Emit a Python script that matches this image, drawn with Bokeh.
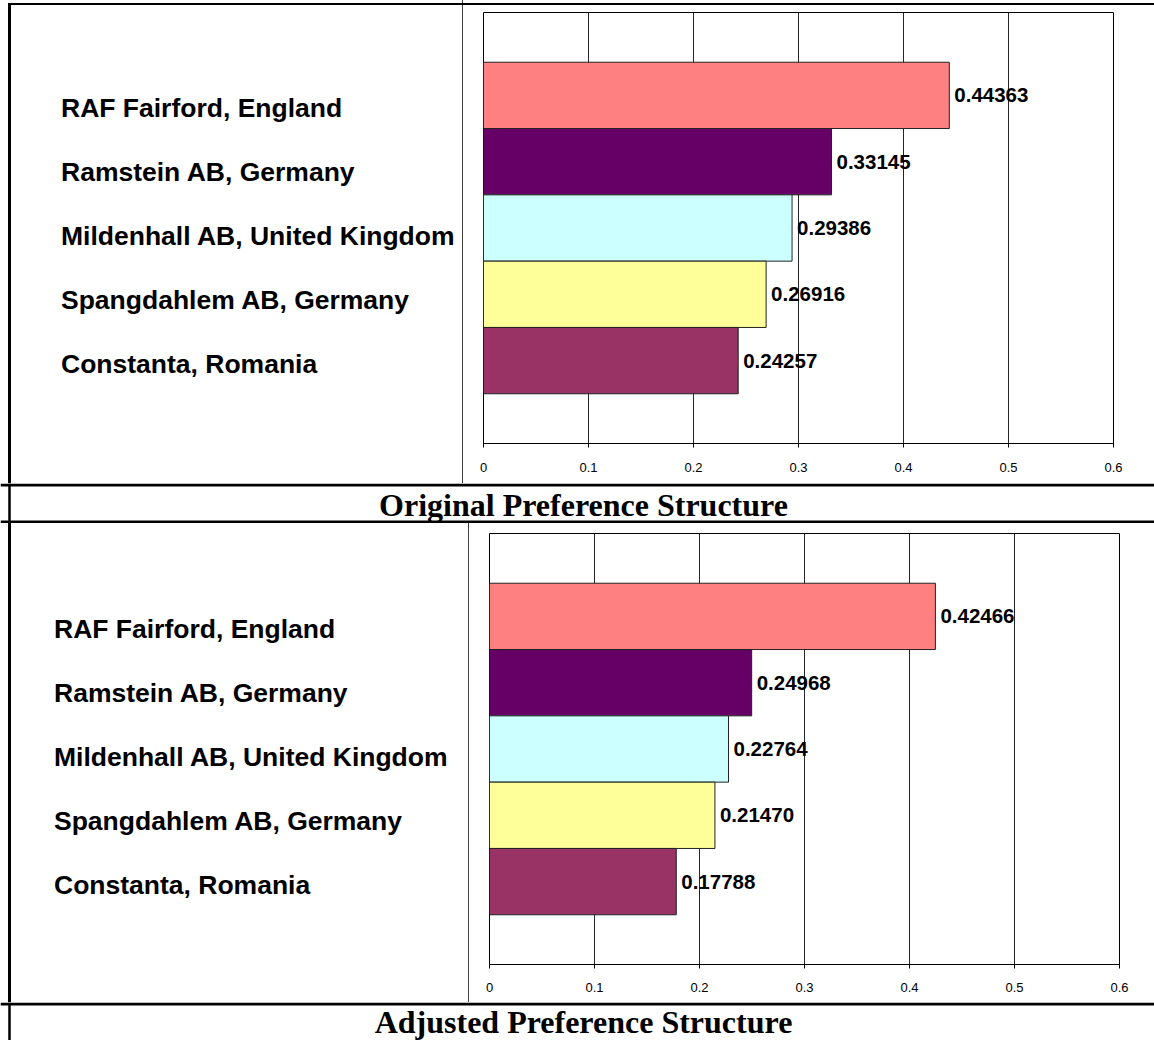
from bokeh.plotting import figure
from bokeh.models import Range1d, FixedTicker, Span, ColumnDataSource, Div
from bokeh.layouts import column, row
from bokeh.embed import file_html
from bokeh.resources import INLINE
from bokeh.core.properties import value

# ---------------- data ----------------
sites = ["RAF Fairford, England", "Ramstein AB, Germany",
         "Mildenhall AB, United Kingdom", "Spangdahlem AB, Germany",
         "Constanta, Romania"]
original = [0.44363, 0.33145, 0.29386, 0.26916, 0.24257]
adjusted = [0.42466, 0.24968, 0.22764, 0.21470, 0.17788]
colors = ["#FF8080", "#660066", "#CCFFFF", "#FFFF99", "#993366"]
x_ticks = [0, 0.1, 0.2, 0.3, 0.4, 0.5, 0.6]
x_tick_labels = ["0", "0.1", "0.2", "0.3", "0.4", "0.5", "0.6"]
captions = ["Original Preference Structure", "Adjusted Preference Structure"]

TOTAL_W = 1154
SANS = "Liberation Sans"
SERIF = "Liberation Serif"


def base(width, height, xr, yr):
    p = figure(width=width, height=height, x_range=xr, y_range=yr,
               x_axis_type=None, y_axis_type=None, toolbar_location=None,
               output_backend="svg", min_border=0, outline_line_color=None,
               background_fill_color="white", border_fill_color="white")
    return p


def label_cell(width, height, y_first, pitch, x_text, top_border=False):
    lh = 32
    parts = [f'<div style="position:relative;width:{width}px;height:{height}px;'
             f'font-family:\'{SANS}\';font-weight:bold;font-size:26.5px;color:black;">',
             f'<div style="position:absolute;left:8px;top:0;width:2.5px;height:{height}px;background:black;"></div>',
             f'<div style="position:absolute;left:{width - 1.5}px;top:0;width:1.5px;height:{height}px;background:#404040;"></div>']
    if top_border:
        parts.append(f'<div style="position:absolute;left:8px;top:3px;width:{TOTAL_W - 8}px;'
                     f'height:2px;background:black;z-index:10;"></div>')
        parts[1] = (f'<div style="position:absolute;left:8px;top:3px;width:2.5px;'
                    f'height:{height - 3}px;background:black;"></div>')
    for i, s in enumerate(sites):
        top = y_first + pitch * i - lh / 2
        parts.append(f'<div style="position:absolute;left:{x_text}px;top:{top}px;'
                     f'line-height:{lh}px;height:{lh}px;white-space:nowrap;">{s}</div>')
    parts.append('</div>')
    return Div(text="".join(parts), width=width, height=height, margin=0,
               styles={"overflow": "visible", "z-index": "5"})


def chart_cell(vals, width, height, mb_left, mb_top, standoff):
    n = len(sites)
    frame_w = 630
    frame_h = 431
    p = figure(width=width, height=height, x_range=Range1d(0, 0.6),
               y_range=Range1d(-0.25, n + 1.25), y_axis_type=None,
               toolbar_location=None, output_backend="svg",
               min_border_left=mb_left, min_border_right=width - mb_left - frame_w,
               min_border_top=mb_top, min_border_bottom=height - mb_top - frame_h,
               outline_line_color="black", outline_line_width=1,
               background_fill_color="white", border_fill_alpha=0)
    src = ColumnDataSource(dict(
        y=[n - i for i in range(n)], v=vals, c=colors,
        lab=[f"{v:.5f}" for v in vals]))
    p.hbar(y="y", left=0, right="v", height=1, fill_color="c",
           line_color="#222222", line_width=1, source=src)
    p.text(x="v", y="y", text="lab", source=src, x_offset=5,
           text_align="left", text_baseline="middle",
           text_font=value(SANS), text_font_style="bold",
           text_font_size="20.5px", text_color="black")
    ax = p.xaxis[0]
    ax.ticker = FixedTicker(ticks=x_ticks, minor_ticks=[])
    ax.major_label_overrides = {t: l for t, l in zip(x_ticks, x_tick_labels)}
    ax.axis_line_color = "black"
    ax.axis_line_width = 1
    ax.major_tick_line_color = "black"
    ax.major_tick_out = 4
    ax.major_tick_in = 0
    ax.minor_tick_line_color = None
    ax.major_label_standoff = standoff
    ax.major_label_text_font = SANS
    ax.major_label_text_font_size = "13px"
    ax.major_label_text_color = "black"
    p.xgrid.grid_line_color = "black"
    p.xgrid.grid_line_width = 1
    p.xgrid.grid_line_alpha = 0.85
    return p


def caption_cell(text, height, center_y, bottom_rule):
    p = base(TOTAL_W, height, Range1d(0, TOTAL_W), Range1d(height, 0))
    p.text(x=[583], y=[center_y], text=[text], text_align="center",
           text_baseline="middle", text_font=value(SERIF),
           text_font_style="bold", text_font_size="32px", text_color="black")
    p.add_layout(Span(location=1.5, dimension="width", line_color="black", line_width=3))
    if bottom_rule:
        p.add_layout(Span(location=height - 1.5, dimension="width", line_color="black", line_width=3))
    p.add_layout(Span(location=9, dimension="height", line_color="black", line_width=2.5))
    return p


row1 = row(label_cell(463, 483, 108, 64, 61, top_border=True),
           chart_cell(original, TOTAL_W - 463, 483, 20, 12, 15))
cap1 = caption_cell(captions[0], 40, 21, True)
row2 = row(label_cell(469, 479, 106, 64, 54),
           chart_cell(adjusted, TOTAL_W - 469, 479, 20, 10, 14))
cap2 = caption_cell(captions[1], 38, 19, False)

layout = column(row1, cap1, row2, cap2)

open("out.html", "w").write(file_html(layout, INLINE))
